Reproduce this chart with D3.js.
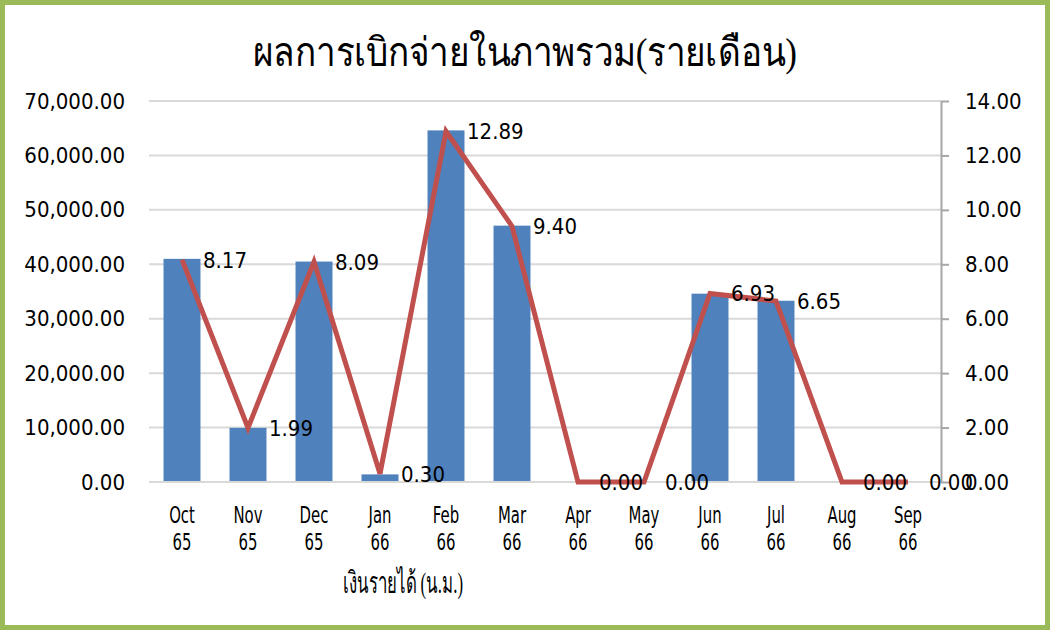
<!DOCTYPE html>
<html><head><meta charset="utf-8">
<script src="https://cdn.jsdelivr.net/npm/d3@7"></script>
<style>
body{margin:0;background:#fff;}
svg{display:block;}
</style></head>
<body><svg id="c" width="1050" height="630"></svg>
<script>
const categories = [["Oct","65"],["Nov","65"],["Dec","65"],["Jan","66"],["Feb","66"],["Mar","66"],["Apr","66"],["May","66"],["Jun","66"],["Jul","66"],["Aug","66"],["Sep","66"]];
const barValues = [41000, 9950, 40500, 1400, 64600, 47100, 0, 0, 34600, 33300, 0, 0];
const lineValues = [8.17, 1.99, 8.09, 0.30, 12.89, 9.40, 0.00, 0.00, 6.93, 6.65, 0.00, 0.00];
const leftTicks = [0,10000,20000,30000,40000,50000,60000,70000];
const rightTicks = [0,2,4,6,8,10,12,14];
const title = "ผลการเบิกจ่ายในภาพรวม(รายเดือน)";
const xTitle = "เงินรายได้ (น.ม.)";

const svg = d3.select("#c");
const W=1050,H=630;
const L=149,R=941,T=101,B=482;
const NUMFONT = "'DejaVu Sans Condensed','DejaVu Sans',sans-serif";
const keys = categories.map(d=>d.join(" "));

// frame
svg.append("rect").attr("x",2.5).attr("y",2.5).attr("width",W-5).attr("height",H-5)
  .attr("fill","#fff").attr("stroke","#9BBB59").attr("stroke-width",5);

const x = d3.scaleBand().domain(keys).range([L,R]).paddingInner(0.44).paddingOuter(0.22);
const yL = d3.scaleLinear().domain([0,70000]).range([B,T]);
const yR = d3.scaleLinear().domain([0,14]).range([B,T]);
const cx = k => x(k)+x.bandwidth()/2;

// gridlines
svg.append("g").selectAll("line").data(leftTicks.slice(1)).join("line")
  .attr("x1",L).attr("x2",R).attr("y1",d=>yL(d)).attr("y2",d=>yL(d))
  .attr("stroke","#D9D9D9").attr("stroke-width",2);

// left axis labels
const gl = svg.append("g").attr("transform",`translate(${L},0)`)
  .call(d3.axisLeft(yL).tickValues(leftTicks).tickFormat(d3.format(",.2f")).tickSize(0).tickPadding(24));
gl.select(".domain").remove();
gl.selectAll("text").attr("font-family",NUMFONT).attr("font-size",22).attr("fill","#000");

// right axis
const gr = svg.append("g").attr("transform",`translate(${R},0)`)
  .call(d3.axisRight(yR).tickValues(rightTicks).tickFormat(d3.format(".2f")).tickSize(8).tickSizeOuter(0).tickPadding(16));
gr.select(".domain").attr("stroke","#A6A6A6").attr("stroke-width",2);
gr.selectAll(".tick line").attr("stroke","#A6A6A6").attr("stroke-width",2);
gr.selectAll("text").attr("font-family",NUMFONT).attr("font-size",22).attr("fill","#000");

// bars
svg.append("g").selectAll("rect").data(barValues).join("rect")
  .attr("x",(d,i)=>x(keys[i])).attr("width",x.bandwidth())
  .attr("y",d=>yL(d)).attr("height",d=>B-yL(d)).attr("fill","#4F81BD");

// baseline
svg.append("line").attr("x1",L).attr("x2",R).attr("y1",B).attr("y2",B)
  .attr("stroke","#D9D9D9").attr("stroke-width",2);

// line
const line = d3.line().x((d,i)=>cx(keys[i])).y(d=>yR(d));
svg.append("path").datum(lineValues).attr("d",line).attr("fill","none")
  .attr("stroke","#C0504D").attr("stroke-width",5).attr("stroke-linejoin","miter");

// data labels
svg.append("g").selectAll("text").data(lineValues).join("text")
  .attr("x",(d,i)=>cx(keys[i])+21).attr("y",d=>yR(d)).attr("dy","0.36em")
  .attr("font-family",NUMFONT).attr("font-size",22).attr("fill","#000")
  .text(d=>d3.format(".2f")(d));

// x labels (condensed)
const xl = svg.append("g").selectAll("g").data(categories).join("g")
  .attr("transform",(d,i)=>`translate(${cx(keys[i])},0) scale(0.72,1)`);
xl.append("text").attr("text-anchor","middle").attr("font-family",NUMFONT)
  .attr("font-size",23).attr("fill","#000").attr("y",523).text(d=>d[0]);
xl.append("text").attr("text-anchor","middle").attr("font-family",NUMFONT)
  .attr("font-size",23).attr("fill","#000").attr("y",550).text(d=>d[1]);

// titles
svg.append("text").attr("x",525).attr("y",66).attr("text-anchor","middle")
  .attr("font-size",40).attr("fill","#000")
  .attr("textLength",544).attr("lengthAdjust","spacingAndGlyphs")
  .text(title);
svg.append("text").attr("x",403).attr("y",593).attr("text-anchor","middle")
  .attr("font-size",30).attr("fill","#000")
  .attr("textLength",120).attr("lengthAdjust","spacingAndGlyphs")
  .text(xTitle);
</script></body></html>
